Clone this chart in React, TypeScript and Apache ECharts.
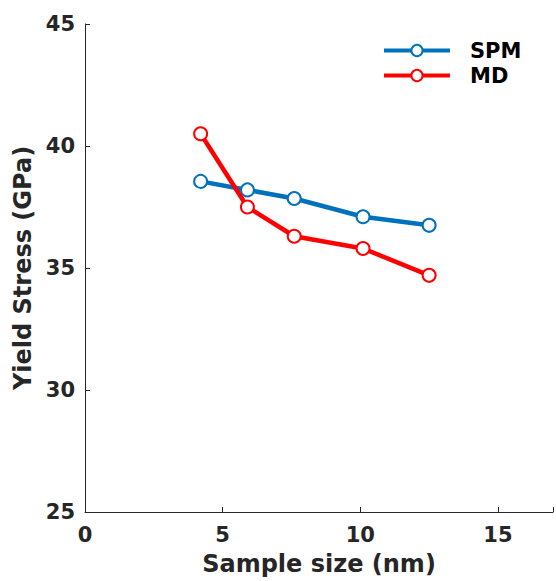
import React, { useEffect, useRef } from "react";
import * as echarts from "echarts";

const sampleSize = [4.2, 5.9, 7.6, 10.1, 12.5];
const spmValues = [38.55, 38.2, 37.85, 37.1, 36.75];
const mdValues = [40.5, 37.5, 36.3, 35.8, 34.7];
const seriesNames = ["SPM", "MD"];
const xTicks = [0, 5, 10, 15];
const yTicks = [25, 30, 35, 40, 45];

const FONT = "DejaVu Sans";
const AXIS_COLOR = "#262626";

export default function App() {
  const ref = useRef<HTMLDivElement>(null);
  useEffect(() => {
    if (!ref.current) return;
    const chart = echarts.init(ref.current, undefined, { renderer: "svg" });
    const mk = (name: string, ys: number[], color: string) => ({
      name,
      type: "line",
      data: sampleSize.map((x, i) => [x, ys[i]]),
      symbol: "emptyCircle",
      symbolSize: 13,
      lineStyle: { color, width: 4.5 },
      itemStyle: { color, borderColor: color, borderWidth: 3.5 },
      z: name === "MD" ? 3 : 2,
    });
    chart.setOption({
      animation: false,
      backgroundColor: "#ffffff",
      grid: { left: 85, top: 24, width: 474, height: 491, containLabel: false },
      legend: {
        data: seriesNames,
        orient: "vertical",
        left: 382,
        top: 40,
        itemWidth: 66,
        itemHeight: 14,
        itemGap: 4,
        padding: 0,
        lineStyle: { width: 4 },
        itemStyle: { borderWidth: 3 },
        textStyle: { fontFamily: FONT, fontWeight: "bold", fontSize: 21, color: "#000", padding: [0, 0, 0, 15] },
      },
      xAxis: {
        type: "value",
        min: 0,
        max: 17,
        interval: 5,
        name: "Sample size (nm)",
        nameLocation: "middle",
        nameGap: 40,
        nameTextStyle: { fontFamily: FONT, fontWeight: "bold", fontSize: 24, color: AXIS_COLOR },
        axisLine: { show: true, lineStyle: { color: AXIS_COLOR, width: 1 } },
        axisTick: { show: true, inside: true, length: 5, lineStyle: { color: AXIS_COLOR } },
        axisLabel: {
          fontFamily: FONT, fontWeight: "bold", fontSize: 21, color: AXIS_COLOR, margin: 12,
          formatter: (v: number) => (xTicks.includes(v) ? String(v) : ""),
        },
        splitLine: { show: false },
      },
      yAxis: {
        type: "value",
        min: 25,
        max: 45,
        interval: 5,
        name: "Yield Stress (GPa)",
        nameLocation: "middle",
        nameGap: 46,
        nameTextStyle: { fontFamily: FONT, fontWeight: "bold", fontSize: 24, color: AXIS_COLOR },
        axisLine: { show: true, lineStyle: { color: AXIS_COLOR, width: 1 } },
        axisTick: { show: true, inside: true, length: 5, lineStyle: { color: AXIS_COLOR } },
        axisLabel: {
          fontFamily: FONT, fontWeight: "bold", fontSize: 21, color: AXIS_COLOR, margin: 10,
          formatter: (v: number) => (yTicks.includes(v) ? String(v) : ""),
        },
        splitLine: { show: false },
      },
      series: [mk("SPM", spmValues, "#0072BD"), mk("MD", mdValues, "#FF0000")],
    });
    return () => chart.dispose();
  }, []);
  return <div ref={ref} style={{ width: 556, height: 581, position: "absolute", left: 0, top: 0 }} />;
}
